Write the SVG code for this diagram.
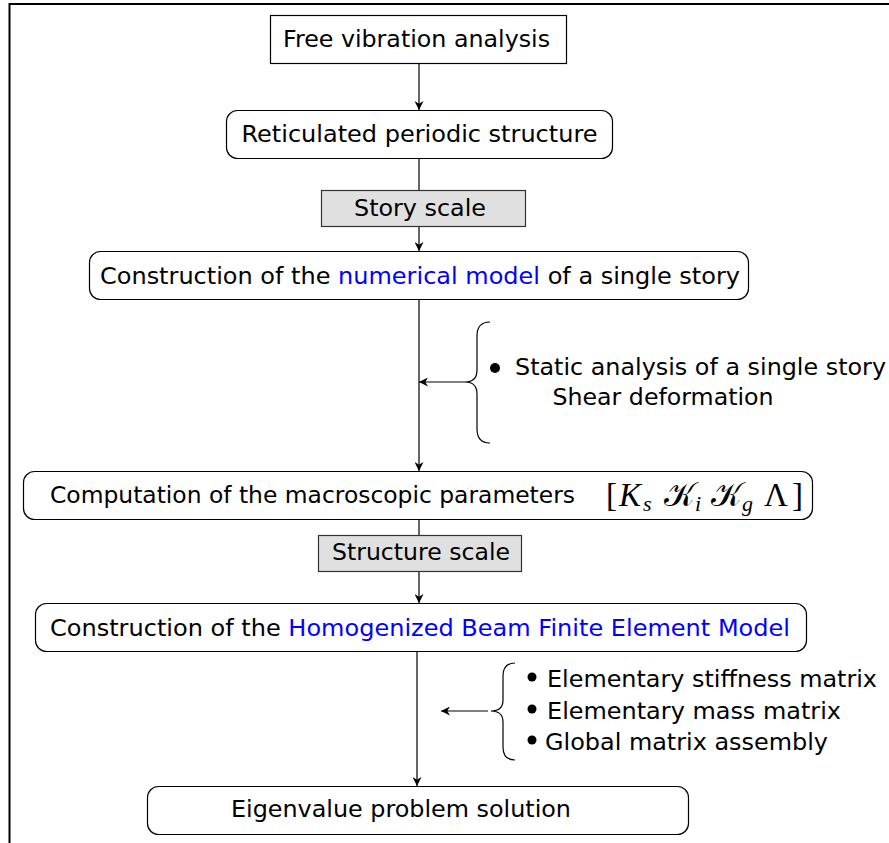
<svg xmlns="http://www.w3.org/2000/svg" width="889" height="843" viewBox="0 0 889 843">
<defs>
<style>
text{font-family:"DejaVu Sans",sans-serif;font-size:23px;fill:#000}
.box{fill:#fff;stroke:#000;stroke-width:1.2}
.scale{fill:#e0e0e0;stroke:#333;stroke-width:1.2}
.ln{stroke:#000;stroke-width:1.2;fill:none}
.blue{fill:#0000ff}
.m{font-family:"Liberation Serif","DejaVu Serif",serif;font-size:33px}
.mi{font-style:italic}
.sub{font-family:"Liberation Serif","DejaVu Serif",serif;font-style:italic;font-size:22px}
</style>
<marker id="ah" viewBox="0 0 10 10" refX="10" refY="5" markerWidth="9" markerHeight="9" markerUnits="userSpaceOnUse" orient="auto">
<path d="M0,0 L10,5 L0,10 L3,5 Z" fill="#000"/>
</marker>
</defs>
<rect width="889" height="843" fill="#fff"/>
<path d="M9.5,843 V4 H889" fill="none" stroke="#000" stroke-width="2"/>

<g id="connectors">
<line class="ln" x1="419" y1="64" x2="419" y2="110" marker-end="url(#ah)"/>
<line class="ln" x1="419" y1="158" x2="419" y2="190"/>
<line class="ln" x1="419" y1="227" x2="419" y2="251" marker-end="url(#ah)"/>
<line class="ln" x1="419" y1="299" x2="419" y2="471" marker-end="url(#ah)"/>
<line class="ln" x1="465" y1="382" x2="419" y2="382" marker-end="url(#ah)"/>
<line class="ln" x1="419" y1="519" x2="419" y2="535"/>
<line class="ln" x1="419" y1="571" x2="419" y2="603" marker-end="url(#ah)"/>
<line class="ln" x1="417" y1="651" x2="417" y2="786" marker-end="url(#ah)"/>
<line class="ln" x1="488" y1="711" x2="441" y2="711" marker-end="url(#ah)"/>
</g>

<g id="n1">
<rect class="box" x="270.5" y="15.5" width="296" height="48"/>
<text x="283" y="47" textLength="267" lengthAdjust="spacingAndGlyphs">Free vibration analysis</text>
</g>
<g id="n2">
<rect class="box" x="226.5" y="110.5" width="386" height="48" rx="11"/>
<text x="241.5" y="142" textLength="356" lengthAdjust="spacingAndGlyphs">Reticulated periodic structure</text>
</g>
<g id="s1">
<rect class="scale" x="321.5" y="190.5" width="204" height="36"/>
<text x="354" y="216" textLength="132" lengthAdjust="spacingAndGlyphs">Story scale</text>
</g>
<g id="n3">
<rect class="box" x="89.5" y="251.5" width="659" height="48" rx="11"/>
<text x="100" y="284" textLength="640" lengthAdjust="spacingAndGlyphs">Construction of the <tspan class="blue">numerical model</tspan> of a single story</text>
</g>
<g id="b1">
<path class="ln" d="M490,322 Q477,322 477,336 V370 Q477,382 465,382 Q477,382 477,394 V429 Q477,443 490,443" stroke-width="1.5"/>
<circle cx="495" cy="368" r="5"/>
<text x="515" y="375" textLength="371" lengthAdjust="spacingAndGlyphs">Static analysis of a single story</text>
<text x="552.5" y="405" textLength="221" lengthAdjust="spacingAndGlyphs">Shear deformation</text>
</g>
<g id="n4">
<rect class="box" x="23.5" y="471.5" width="789" height="48" rx="11"/>
<text x="50" y="503" textLength="525" lengthAdjust="spacingAndGlyphs">Computation of the macroscopic parameters</text>
<text class="m" y="506"><tspan x="606">[</tspan><tspan class="mi" x="619">K</tspan><tspan class="sub" x="643" dy="5">s</tspan><tspan x="664" dy="-5">𝒦</tspan><tspan class="sub" x="695" dy="5">i</tspan><tspan x="711" dy="-5">𝒦</tspan><tspan class="sub" x="742" dy="5">g</tspan><tspan x="764" dy="-5">Λ</tspan><tspan x="792">]</tspan></text>
</g>
<g id="s2">
<rect class="scale" x="318.5" y="535.5" width="203" height="36"/>
<text x="332" y="560" textLength="178" lengthAdjust="spacingAndGlyphs">Structure scale</text>
</g>
<g id="n5">
<rect class="box" x="35.5" y="603.5" width="771" height="48" rx="11"/>
<text x="50" y="636" textLength="740" lengthAdjust="spacingAndGlyphs">Construction of the <tspan class="blue">Homogenized Beam Finite Element Model</tspan></text>
</g>
<g id="b2">
<path class="ln" d="M515,663 Q503,663 503,676 V700 Q503,711 491,711 Q503,711 503,722 V747 Q503,760 515,760" stroke-width="1.5"/>
<circle cx="532" cy="677" r="4.5"/>
<circle cx="532" cy="709" r="4.5"/>
<circle cx="532" cy="740" r="4.5"/>
<text x="547" y="687" textLength="330" lengthAdjust="spacingAndGlyphs">Elementary stiffness matrix</text>
<text x="547" y="719" textLength="294" lengthAdjust="spacingAndGlyphs">Elementary mass matrix</text>
<text x="545" y="750" textLength="283" lengthAdjust="spacingAndGlyphs">Global matrix assembly</text>
</g>
<g id="n6">
<rect class="box" x="147.5" y="786.5" width="541" height="48" rx="11"/>
<text x="231" y="817" textLength="340" lengthAdjust="spacingAndGlyphs">Eigenvalue problem solution</text>
</g>
</svg>
